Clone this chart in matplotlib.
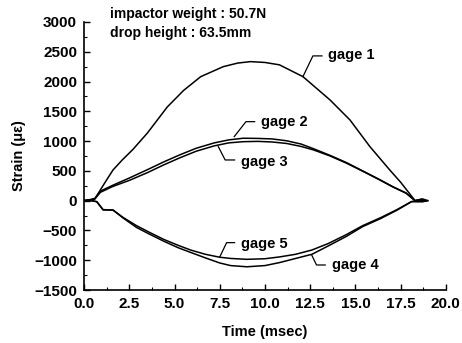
import matplotlib
matplotlib.use('Agg')
import matplotlib.pyplot as plt
from matplotlib.ticker import MultipleLocator

# strain gage readings (time in msec, strain in micro-strain)
gage1_t = [0, 0.4, 0.6, 0.9, 1.25, 1.6, 2.1, 2.7, 3.5, 4.6, 5.5, 6.45, 7.7, 8.5, 9.2, 10.0, 10.8,
           12.1, 13.6, 14.7, 15.8, 16.9, 17.5, 18.3, 18.6, 18.9]
gage1_v = [0, 20, 30, 180, 350, 515, 680, 860, 1135, 1573, 1850, 2082, 2250, 2310, 2334, 2320, 2280,
           2082, 1690, 1355, 908, 515, 310, 0, 20, 0]

pair_up_t = [0, 0.4, 0.6, 0.9, 1.6, 2.5, 3.5, 4.4, 5.3, 6.2, 7.2, 8.0, 8.8, 9.6, 10.4,
             11.2, 12.0, 12.7, 13.6, 14.5, 15.4, 16.3, 17.1, 17.8, 18.3, 18.7, 19.0]
gage2_v = [0, 20, 40, 160, 260, 380, 520, 650, 770, 880, 970, 1020, 1048, 1045, 1036,
           1005, 950, 870, 760, 640, 500, 360, 230, 130, 0, 30, 0]
gage3_v = [0, 10, 30, 140, 240, 340, 470, 600, 720, 830, 920, 970, 990, 995, 985,
           960, 910, 850, 750, 630, 495, 355, 225, 125, 0, -20, 0]

pair_down_t = [0, 0.4, 0.7, 1.05, 1.6, 2.15, 2.9, 3.6, 4.4, 5.2, 5.9, 6.7, 7.5, 8.1, 9.0,
               10.0, 10.8, 11.7, 12.6, 13.5, 14.5, 15.4, 16.4, 17.3, 18.1, 18.5, 18.9]
gage4_v = [0, 0, -17, -156, -156, -290, -450, -560, -680, -790, -870, -960, -1046, -1090, -1110,
           -1090, -1040, -970, -900, -760, -600, -436, -300, -160, -17, 10, 0]
gage5_v = [0, 0, -17, -150, -160, -280, -420, -530, -650, -750, -830, -900, -950, -970, -985,
           -975, -945, -900, -828, -720, -570, -420, -285, -150, -17, -20, 0]

# label text, curve point, elbow point, text anchor
labels = ['gage 1', 'gage 2', 'gage 3', 'gage 4', 'gage 5']
label_curve = [(12.1, 2082), (8.3, 1075), (7.42, 907), (12.58, -910), (7.51, -940)]
label_elbow = [(12.65, 2430), (8.95, 1326), (7.8, 683), (12.85, -1080), (7.88, -705)]
label_text = [(13.5, 2450), (9.78, 1326), (8.67, 655), (13.68, -1080), (8.67, -722)]

font = 'Liberation Sans'
fig = plt.figure(figsize=(4.62, 3.43), dpi=100)
ax = fig.add_axes([0.182, 0.1545, 0.783, 0.7815])

lw = 1.1
ax.plot(gage1_t, gage1_v, color='black', lw=lw)
ax.plot(pair_up_t, gage2_v, color='black', lw=lw)
ax.plot(pair_up_t, gage3_v, color='black', lw=lw)
ax.plot(pair_down_t, gage4_v, color='black', lw=lw)
ax.plot(pair_down_t, gage5_v, color='black', lw=lw)

for name, c, e, t in zip(labels, label_curve, label_elbow, label_text):
    ax.plot([c[0], e[0], t[0] - 0.35], [c[1], e[1], e[1]], color='black', lw=0.9)
    ax.text(t[0], t[1], name, fontsize=10.5, fontweight='bold', family=font,
            va='center', ha='left')

ax.text(1.45, 3135, 'impactor weight : 50.7N', fontsize=10, fontweight='bold',
        family=font, va='center', clip_on=False)
ax.text(1.45, 2815, 'drop height : 63.5mm', fontsize=10, fontweight='bold',
        family=font, va='center', clip_on=False)

ax.set_xlim(0, 20)
ax.set_ylim(-1500, 3000)
ax.xaxis.set_major_locator(MultipleLocator(2.5))
ax.xaxis.set_minor_locator(MultipleLocator(1.25))
ax.yaxis.set_major_locator(MultipleLocator(500))
ax.yaxis.set_minor_locator(MultipleLocator(250))
ax.xaxis.set_major_formatter(plt.FuncFormatter(lambda v, p: '%.1f' % v))
ax.spines['top'].set_visible(False)
ax.spines['right'].set_visible(False)
ax.spines['left'].set_linewidth(1.2)
ax.spines['bottom'].set_linewidth(1.2)
ax.tick_params(which='major', direction='in', length=4, width=1, pad=5)
ax.tick_params(which='minor', direction='in', length=2, width=0.8)
for lab in ax.get_xticklabels() + ax.get_yticklabels():
    lab.set_family(font)
    lab.set_fontweight('bold')
    lab.set_fontsize(11)

ax.set_xlabel('Time (msec)', family=font, fontweight='bold', fontsize=10.5, labelpad=10)
ax.set_ylabel('Strain (\u03bc\u03b5)', family=font, fontweight='bold', fontsize=10.5, labelpad=6)

fig.savefig('out.png', dpi=100)
